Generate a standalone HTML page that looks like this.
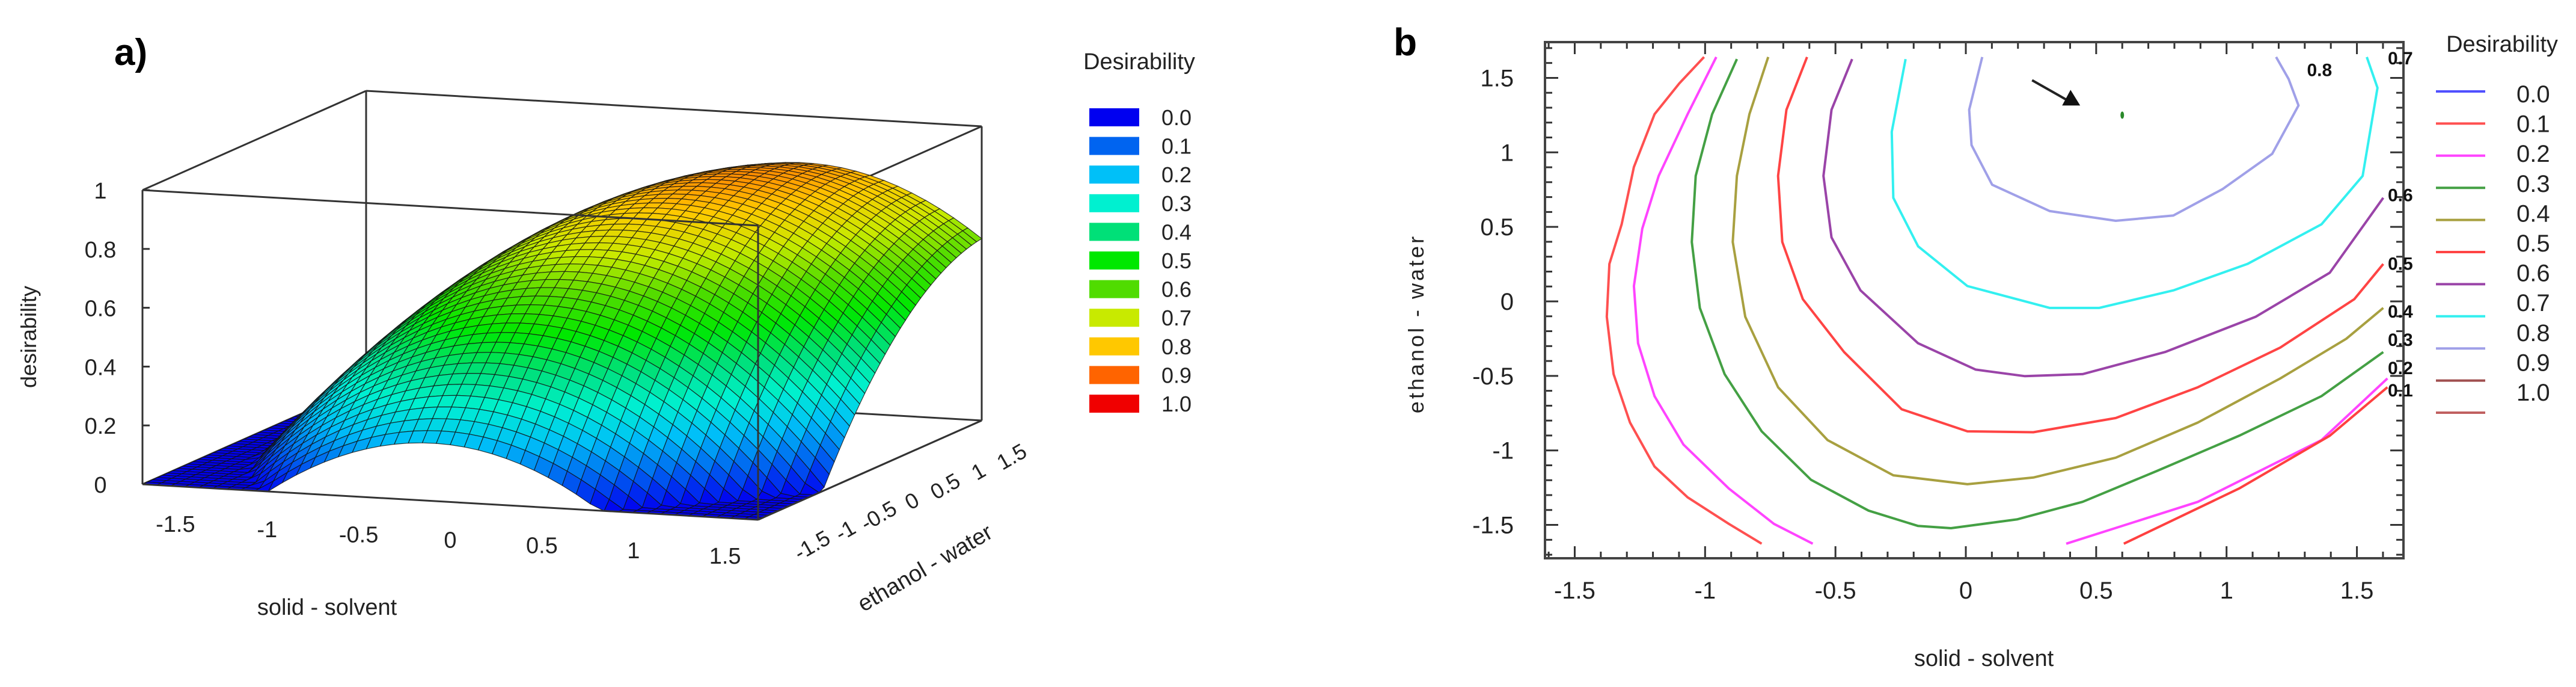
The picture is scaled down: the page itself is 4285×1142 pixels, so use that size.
<!DOCTYPE html>
<html><head><meta charset="utf-8"><style>
html,body{margin:0;padding:0;background:#fff;}
svg{display:block;font-family:"Liberation Sans",sans-serif;}
</style></head><body>
<svg id="fig" width="4285" height="1142" viewBox="0 0 4285 1142" xmlns="http://www.w3.org/2000/svg">
<rect width="4285" height="1142" fill="#fff"/>
<g id="pa"></g>
<g id="pb"></g>
</svg>
<script>
// ---------- DATA ----------
// Panel b contour polylines (data coordinates: solid-solvent, ethanol-water)
const c01L_x=[-1.004,-1.099,-1.194,-1.273,-1.32,-1.367,-1.377,-1.351,-1.288,-1.194,-1.067,-0.909,-0.783];
const c01L_y=[1.64,1.463,1.256,0.902,0.517,0.251,-0.103,-0.488,-0.813,-1.108,-1.315,-1.493,-1.626];
const c02L_x=[-0.957,-1.067,-1.178,-1.241,-1.273,-1.257,-1.194,-1.083,-0.909,-0.736,-0.587];
const c02L_y=[1.64,1.256,0.842,0.488,0.103,-0.281,-0.636,-0.961,-1.256,-1.493,-1.626];
const c03_x=[-0.878,-0.973,-1.036,-1.051,-1.020,-0.925,-0.783,-0.594,-0.373,-0.183,-0.057,0.196,0.448,0.733,1.048,1.364,1.601];
const c03_y=[1.626,1.256,0.842,0.399,-0.044,-0.488,-0.872,-1.197,-1.404,-1.507,-1.522,-1.463,-1.345,-1.138,-0.902,-0.636,-0.340];
const c04_x=[-0.758,-0.830,-0.878,-0.894,-0.846,-0.720,-0.530,-0.278,0.006,0.259,0.575,0.890,1.206,1.459,1.601];
const c04_y=[1.64,1.256,0.842,0.399,-0.103,-0.576,-0.931,-1.167,-1.227,-1.182,-1.049,-0.813,-0.517,-0.251,-0.044];
const c05_x=[-0.609,-0.688,-0.720,-0.704,-0.625,-0.467,-0.246,0.006,0.259,0.575,0.890,1.206,1.490,1.601];
const c05_y=[1.64,1.286,0.842,0.399,0.015,-0.340,-0.724,-0.872,-0.878,-0.783,-0.576,-0.310,0.015,0.251];
const c06_x=[-0.436,-0.515,-0.546,-0.515,-0.404,-0.183,0.038,0.227,0.448,0.764,1.112,1.396,1.601];
const c06_y=[1.626,1.286,0.842,0.429,0.074,-0.281,-0.458,-0.502,-0.488,-0.340,-0.103,0.192,0.695];
const c07_x=[-0.231,-0.284,-0.278,-0.183,0.006,0.322,0.511,0.796,1.080,1.364,1.522,1.579,1.538];
const c07_y=[1.626,1.138,0.695,0.370,0.103,-0.044,-0.044,0.074,0.251,0.517,0.842,1.433,1.64];
const c08_x=[0.063,0.013,0.022,0.101,0.322,0.575,0.796,0.985,1.175,1.276,1.238,1.190];
const c08_y=[1.64,1.286,1.049,0.783,0.606,0.541,0.576,0.754,0.990,1.315,1.493,1.64];
const c02R_x=[0.385,0.890,1.364,1.617];
const c02R_y=[-1.626,-1.345,-0.931,-0.517];
const c01R_x=[0.606,1.048,1.396,1.617];
const c01R_y=[-1.626,-1.256,-0.902,-0.576];
const contourLevels=["0.1","0.2","0.3","0.4","0.5","0.6","0.7","0.8","0.2","0.1"];
const contourColors=["#ff5050","#ff44ff","#44a044","#a8a040","#ff4444","#9a44a8","#33f0f0","#a0a0e8","#ff44ff","#ff4040"];
const contourXs=[c01L_x,c02L_x,c03_x,c04_x,c05_x,c06_x,c07_x,c08_x,c02R_x,c01R_x];
const contourYs=[c01L_y,c02L_y,c03_y,c04_y,c05_y,c06_y,c07_y,c08_y,c02R_y,c01R_y];
const labelLevels=["0.8","0.7","0.6","0.5","0.4","0.3","0.2","0.1"];
const labelXs=[1.35,1.66,1.66,1.66,1.66,1.66,1.66,1.66];
const labelYs=[1.56,1.64,0.72,0.26,-0.06,-0.25,-0.44,-0.59];
const optimumX=[0.6]; const optimumY=[1.25];
const xTicksB=[-1.5,-1,-0.5,0,0.5,1,1.5];
const xTickLabelsB=["-1.5","-1","-0.5","0","0.5","1","1.5"];
const yTicksB=[1.5,1,0.5,0,-0.5,-1,-1.5];
const yTickLabelsB=["1.5","1","0.5","0","-0.5","-1","-1.5"];
const legendLabels=["0.0","0.1","0.2","0.3","0.4","0.5","0.6","0.7","0.8","0.9","1.0"];
const legendLineColors=["#5050ff","#ff5050","#ff44ff","#44a044","#a8a040","#ff4444","#9a44a8","#33f0f0","#a0a0e8","#a05050","#c06060"];
// Panel a: fitted response-surface coefficients (peak, x-centre, y-centre, x-curv, y-curv, tilt)
const surfPeak=[0.86]; const surfCenter=[0.6,1.2]; const surfCurv=[0.24,0.08]; const surfTilt=[0.24];
const legendSwatchColors=["#0000f0","#0064f0","#00c0f8","#00f0d0","#00e078","#00e800","#50dc00","#c8ea00","#ffc800","#ff6400","#f00000"];
const zTicksA=[0,0.2,0.4,0.6,0.8,1];
const zTickLabelsA=["0","0.2","0.4","0.6","0.8","1"];
const xTicksA=[-1.5,-1,-0.5,0,0.5,1,1.5];
const xTickLabelsA=["-1.5","-1","-0.5","0","0.5","1","1.5"];
const yTicksA=[-1.5,-1,-0.5,0,0.5,1,1.5];
const yTickLabelsA=["-1.5","-1","-0.5","0","0.5","1","1.5"];

const NS="http://www.w3.org/2000/svg";
function mk(tag,attrs,parent,txt){const e=document.createElementNS(NS,tag);for(const k in attrs)e.setAttribute(k,attrs[k]);if(txt!==undefined)e.textContent=txt;parent.appendChild(e);return e;}

// ---------- PANEL B ----------
const pb=document.getElementById('pb');
const L=2570,R=3998,T=70,B=928;
const sx=v=>3270+v*433.7, sy=v=>501-v*247.7;
let t=mk('text',{x:2318,y:92,'font-size':64,'font-weight':'bold'},pb,'b');


// ticks
const tk=mk('g',{stroke:'#333','stroke-width':3},pb);


for(let i=-16;i<=16;i++){const v=i/10;const X=sx(v);if(X<L||X>R)continue;const len=(i%5===0)?20:11;
 mk('line',{x1:X,y1:B,x2:X,y2:B-len},tk);mk('line',{x1:X,y1:T,x2:X,y2:T+len},tk);}
for(let i=-17;i<=17;i++){const v=i/10;const Y=sy(v);if(Y<T||Y>B)continue;const len=(i%5===0)?22:12;
 mk('line',{x1:L,y1:Y,x2:L+len,y2:Y},tk);mk('line',{x1:R,y1:Y,x2:R-len,y2:Y},tk);}
let fr=mk('rect',{x:L,y:T,width:R-L,height:B-T,fill:'none',stroke:'#444','stroke-width':4},pb);


xTicksB.forEach((v,i)=>{const e=mk('text',{x:sx(v),y:995,'font-size':40,'text-anchor':'middle',fill:'#222'},pb,xTickLabelsB[i]);
 
 });
yTicksB.forEach((v,i)=>{const e=mk('text',{x:2518,y:sy(v)+14,'font-size':40,'text-anchor':'end',fill:'#222'},pb,yTickLabelsB[i]);
 
 });
t=mk('text',{x:3300,y:1107,'font-size':38,'text-anchor':'middle',fill:'#222'},pb,'solid - solvent');


t=mk('text',{x:0,y:0,'font-size':36,'text-anchor':'middle',fill:'#222','letter-spacing':4,transform:'translate(2368,538) rotate(-90)'},pb,'ethanol - water');


contourXs.forEach((xs,k)=>{const pts=xs.map((v,i)=>sx(v).toFixed(1)+','+sy(contourYs[k][i]).toFixed(1)).join(' ');
 const p=mk('polyline',{points:pts,fill:'none',stroke:contourColors[k],'stroke-width':4,'stroke-linejoin':'round'},pb);
 
 });
labelLevels.forEach((s,i)=>{const e=mk('text',{x:sx(labelXs[i])-18,y:sy(labelYs[i])+12,'font-size':30,'font-weight':'bold',fill:'#111'},pb,s);
 
 });
let ar=mk('g',{},pb);


const ox=sx(optimumX[0]),oy=sy(optimumY[0]);
mk('line',{x1:ox-150,y1:oy-58,x2:ox-90,y2:oy-24,stroke:'#222','stroke-width':4},ar);
mk('polygon',{points:`${ox-70},${oy-16} ${ox-100},${oy-16} ${ox-86},${oy-42}`,fill:'#111'},ar);
let op=mk('ellipse',{cx:ox,cy:oy,rx:3,ry:6,fill:'#2a8a2a'},pb);


t=mk('text',{x:4162,y:86,'font-size':38,'text-anchor':'middle',fill:'#222'},pb,'Desirability');


legendLineColors.forEach((c,i)=>{const g=mk('g',{},pb);
 
 
 const y=152+i*53.4;mk('line',{x1:4052,y1:y,x2:4134,y2:y,stroke:c,'stroke-width':4},g);
 if(i<legendLabels.length)mk('text',{x:4186,y:170+i*49.6,'font-size':40,fill:'#222'},g,legendLabels[i]);});

// ---------- PANEL A ----------
const pa=document.getElementById('pa');
const O=[237,805],Ex=[1024,59],Ey=[372,-165],Ez=[0,-489];
function P(x,y,z){const a=(x+1.68)/3.36,b=(y+1.68)/3.36;return [O[0]+a*Ex[0]+b*Ey[0]+z*Ez[0],O[1]+a*Ex[1]+b*Ey[1]+z*Ez[1]];}
function D(x,y){const u=x-surfCenter[0]-surfTilt[0]*(y-surfCenter[1]);const w=y-surfCenter[1];return Math.max(0,surfPeak[0]-surfCurv[0]*u*u-surfCurv[1]*w*w);}
function col(z){const n=legendSwatchColors.length-1;let f=Math.min(Math.max(z,0),1)*n;const i=Math.min(Math.floor(f),n-1);f-=i;
 const h=s=>[parseInt(s.substr(1,2),16),parseInt(s.substr(3,2),16),parseInt(s.substr(5,2),16)];const a=h(legendSwatchColors[i]),b=h(legendSwatchColors[i+1]);
 return `rgb(${a.map((v,k)=>Math.round(v+(b[k]-v)*f)).join(',')})`;}
t=mk('text',{x:190,y:108,'font-size':62,'font-weight':'bold'},pa,'a)');


const bx=mk('g',{stroke:'#333','stroke-width':3,fill:'none'},pa);


const e3=(a,b)=>{const p=P(...a),q=P(...b);mk('line',{x1:p[0],y1:p[1],x2:q[0],y2:q[1]},bx);};
const m=1.68;
e3([-m,m,1],[m,m,1]);e3([-m,m,1],[-m,-m,1]);e3([-m,m,0],[-m,m,1]);e3([m,m,0],[m,m,1]);e3([m,-m,1],[m,m,1]);
e3([m,m,0],[m,-m,0]);e3([-m,m,1],[-m,m,0]);e3([-m,-m,0],[-m,m,0]);e3([-m,m,0],[m,m,0]);
// surface
const N=44,sg=mk('g',{stroke:'#111','stroke-width':1.2,'stroke-opacity':0.8},pa);


const quads=[];
for(let i=0;i<N;i++)for(let j=0;j<N;j++){const x0=-m+2*m*i/N,x1=-m+2*m*(i+1)/N,y0=-m+2*m*j/N,y1=-m+2*m*(j+1)/N;
 quads.push({i,j,x0,x1,y0,y1,d:(y0+y1)/2*1-(x0+x1)/2*0.15});}
quads.sort((a,b)=>b.d-a.d);
quads.forEach(q=>{const c=[[q.x0,q.y0],[q.x1,q.y0],[q.x1,q.y1],[q.x0,q.y1]];let zs=0;
 const pts=c.map(([x,y])=>{const z=D(x,y);zs+=z;const p=P(x,y,z);return p[0].toFixed(1)+','+p[1].toFixed(1);}).join(' ');
 mk('polygon',{points:pts,fill:col(zs/4)},sg);});
const fx=mk('g',{stroke:'#333','stroke-width':3,fill:'none'},pa);


const f3=(a,b)=>{const p=P(...a),q=P(...b);mk('line',{x1:p[0],y1:p[1],x2:q[0],y2:q[1]},fx);};
f3([-m,-m,0],[m,-m,0]);f3([m,-m,0],[m,m,0]);f3([-m,-m,0],[-m,-m,1]);f3([m,-m,0],[m,-m,1]);f3([-m,-m,1],[m,-m,1]);
zTicksA.forEach((v,i)=>{const p=P(-m,-m,v);mk('line',{x1:p[0],y1:p[1],x2:p[0]+12,y2:p[1]},fx);
 const e=mk('text',{x:p[0]-70,y:p[1]+14,'font-size':38,'text-anchor':'middle',fill:'#222'},pa,zTickLabelsA[i]);
 
 });
xTicksA.forEach((v,i)=>{const p=P(v,-m,0);const e=mk('text',{x:p[0],y:p[1]+76,'font-size':38,'text-anchor':'middle',fill:'#222'},pa,xTickLabelsA[i]);
 
 });
yTicksA.forEach((v,i)=>{const p=P(m,v,0);const e=mk('text',{x:0,y:0,'font-size':36,'text-anchor':'middle',fill:'#222',transform:`translate(${p[0]+76},${p[1]+62}) rotate(-30)`},pa,yTickLabelsA[i]);
 
 });
t=mk('text',{x:544,y:1022,'font-size':38,'text-anchor':'middle',fill:'#222'},pa,'solid - solvent');


t=mk('text',{x:0,y:0,'font-size':38,'text-anchor':'middle',fill:'#222',transform:'translate(1545,955) rotate(-30)'},pa,'ethanol - water');


t=mk('text',{x:0,y:0,'font-size':36,'text-anchor':'middle',fill:'#222',transform:'translate(60,560) rotate(-90)'},pa,'desirability');


t=mk('text',{x:1895,y:115,'font-size':38,'text-anchor':'middle',fill:'#222'},pa,'Desirability');


legendSwatchColors.forEach((c,i)=>{const g=mk('g',{},pa);
 
 
 const y=180+i*47.6;mk('rect',{x:1812,y:y,width:83,height:30,fill:c},g);
 mk('text',{x:1932,y:y+28,'font-size':36,fill:'#222'},g,legendLabels[i]);});
</script>
</body></html>
